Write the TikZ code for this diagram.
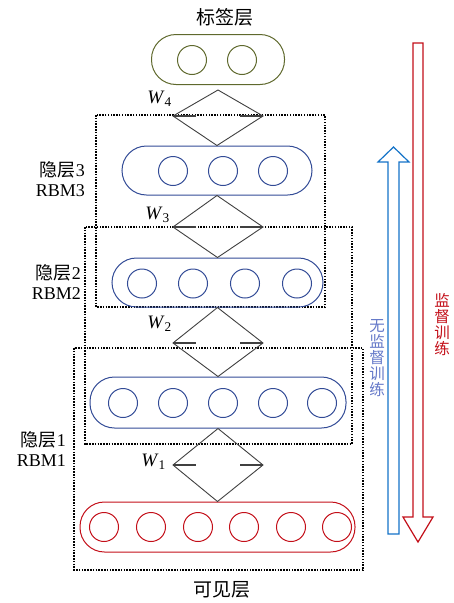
\documentclass[tikz,border=0pt]{standalone}
\usepackage{fontspec}
\setmainfont{Liberation Serif}
\newfontfamily\cjk{Noto Sans CJK SC}
\usetikzlibrary{calc}
\definecolor{capblue}{RGB}{50,75,150}
\definecolor{capolive}{RGB}{95,105,45}
\definecolor{capred}{RGB}{195,15,25}
\definecolor{diamgray}{RGB}{64,64,64}
\definecolor{arrblue}{RGB}{20,115,200}
\definecolor{txtblue}{RGB}{100,120,200}
\begin{document}
\begin{tikzpicture}[x=1pt,y=-1pt,
  capsule/.style={draw, line width=1pt, rounded corners=24.5pt, inner sep=0pt, minimum height=49pt},
  unit/.style={draw, circle, minimum size=29pt, inner sep=0pt, line width=1pt},
  wgt/.style={draw=diamgray, line width=0.9pt, line join=miter},
  tickline/.style={draw=diamgray, line width=2pt},
  rbmbox/.style={draw=black, line width=1.1pt, dash pattern=on 1.5pt off 1.3pt},
  lbl/.style={font=\fontsize{18}{20}\selectfont, align=right, inner sep=0pt},
  wl/.style={font=\fontsize{19}{19}\selectfont, inner sep=0pt},
  ttl/.style={font=\cjk\fontsize{19}{19}\selectfont, inner sep=0pt},
  vtxt/.style={font=\cjk\fontsize{15.5}{16}\selectfont, align=center, inner sep=0pt}
]
\useasboundingbox (0,0) rectangle (454,603);

% dotted RBM boxes
\draw[rbmbox] (96,115) rectangle (325,307);
\draw[rbmbox] (85,227) rectangle (352,444);
\draw[rbmbox] (74,348) rectangle (363,570);

% layers
\node[capsule, draw=capolive, minimum width=133pt, minimum height=50pt] (L4) at (218,59.5) {};
\node[unit, draw=capolive] (u41) at (192,60) {};
\node[unit, draw=capolive] (u42) at (242,60) {};

\node[capsule, draw=capblue, minimum width=190pt] (L3) at (217,170.5) {};
\foreach \i/\x in {1/173,2/223,3/273} \node[unit, draw=capblue] (u3\i) at (\x,171) {};

\node[capsule, draw=capblue, minimum width=211pt] (L2) at (217.5,282.5) {};
\foreach \i/\x in {1/142,2/193,3/245,4/297} \node[unit, draw=capblue] (u2\i) at (\x,283.5) {};

\node[capsule, draw=capblue, minimum width=256pt, minimum height=51pt] (L1) at (218,402.5) {};
\foreach \i/\x in {1/123,2/173,3/223,4/273,5/322} \node[unit, draw=capblue] (u1\i) at (\x,403) {};

\node[capsule, draw=capred, minimum width=275pt, minimum height=50pt] (L0) at (217.5,527) {};
\foreach \i/\x in {1/104,2/151,3/198,4/244,5/291,6/337} \node[unit, draw=capred] (u0\i) at (\x,527) {};

% weight diamonds
\coordinate (d4t) at (218,90);
\coordinate (d4l) at (173,116);
\coordinate (d4r) at (263,116);
\draw[wgt] (d4t) -- (d4l) -- (L3.north) -- (d4r) -- cycle;
\coordinate (d3l) at (173,227);
\coordinate (d3r) at (263,227);
\draw[wgt] (L3.south) -- (d3l) -- (L2.north) -- (d3r) -- cycle;
\coordinate (d2l) at (173,343);
\coordinate (d2r) at (263,343);
\draw[wgt] (L2.south) -- (d2l) -- (L1.north) -- (d2r) -- cycle;
\coordinate (d1l) at (173,465);
\coordinate (d1r) at (263,465);
\draw[wgt] (L1.south) -- (d1l) -- (L0.north) -- (d1r) -- cycle;

\foreach \d in {4,3,2,1}{
  \draw[tickline] (d\d l) -- ++(23,0);
  \draw[tickline] (d\d r) -- ++(-23,0);
}

% weight labels
\node[wl, anchor=east] (w4) at (172,99) {\textit{W}\textsubscript{4}};
\node[wl, anchor=east] (w3) at (170,215) {\textit{W}\textsubscript{3}};
\node[wl, anchor=east] (w2) at (172,324) {\textit{W}\textsubscript{2}};
\node[wl, anchor=east] (w1) at (166,462) {\textit{W}\textsubscript{1}};

% titles
\node[ttl] (top) at (225,17) {标签层};
\node[ttl] (bot) at (222,590) {可见层};

% side labels
\node[lbl, anchor=east] (h3) at (85,179.5) {{\cjk 隐层}3\\RBM3};
\node[lbl, anchor=east] (h2) at (81,282.5) {{\cjk 隐层}2\\RBM2};
\node[lbl, anchor=east] (h1) at (66,449) {{\cjk 隐层}1\\RBM1};

% training arrows
\draw[draw=arrblue, fill=white, line width=1.2pt, line join=miter]
  (388,534) -- (388,162) -- (378,162) -- (393.5,147) -- (409,162) -- (399,162) -- (399,534) -- cycle;
\draw[draw=capred, fill=white, line width=1.2pt, line join=miter]
  (413,43) -- (423,43) -- (423,517) -- (433,517) -- (418,542) -- (403,517) -- (413,517) -- cycle;

\node[vtxt, text=txtblue] (ut) at (377,358.5) {无\\监\\督\\训\\练};
\node[vtxt, text=capred] (st) at (442,325) {监\\督\\训\\练};
\end{tikzpicture}
\end{document}
